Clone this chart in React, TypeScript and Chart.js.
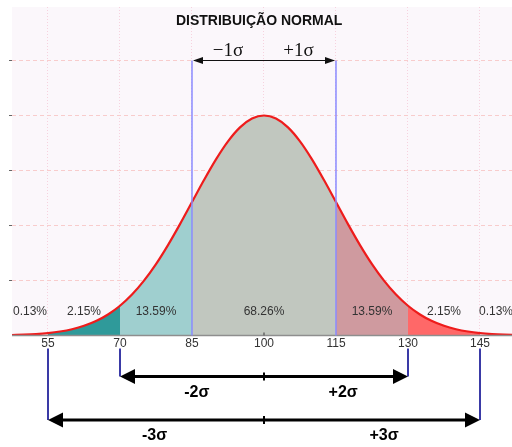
import React, { useEffect, useRef } from 'react';
import { Chart, registerables } from 'chart.js';

Chart.register(...registerables);

// ---- data ----
const curveX = [
  47.5, 50, 52.5, 55, 57.5, 60, 62.5, 65, 67.5, 70, 72.5, 75, 77.5, 80, 82.5, 85, 87.5, 90, 92.5, 95, 97.5,
  100,
  102.5, 105, 107.5, 110, 112.5, 115, 117.5, 120, 122.5, 125, 127.5, 130, 132.5, 135, 137.5, 140, 142.5, 145, 147.5, 150, 152.5,
];
const curveY = [
  0.0087, 0.0155, 0.0266, 0.0444, 0.0723, 0.1143, 0.1758, 0.2629, 0.3826, 0.5413, 0.7451, 0.9974, 1.2986, 1.6444, 2.0254, 2.4261, 2.8266, 3.203, 3.53, 3.7838, 3.9448,
  4.0,
  3.9448, 3.7838, 3.53, 3.203, 2.8266, 2.4261, 2.0254, 1.6444, 1.2986, 0.9974, 0.7451, 0.5413, 0.3826, 0.2629, 0.1758, 0.1143, 0.0723, 0.0444, 0.0266, 0.0155, 0.0087,
];
const tickValues = [55, 70, 85, 100, 115, 130, 145];
const bandEdges = [55, 70, 85, 115, 130, 145];
const bandColors = ['#2f9a9a', '#9fcfcf', '#c1c7bf', '#cf9a9f', '#ff6868'];
const percentLabels = ['0.13%', '2.15%', '13.59%', '68.26%', '13.59%', '2.15%', '0.13%'];
const title = 'DISTRIBUIÇÃO NORMAL';
const oneSigmaLabels = ['\u22121\u03c3', '+1\u03c3'];
const twoSigmaLabels = ['-2\u03c3', '+2\u03c3'];
const threeSigmaLabels = ['-3\u03c3', '+3\u03c3'];
const mean = 100;
const sd = 15;
const xMin = 47.5;
const xMax = 151.67;
const yMax = 5.973;

const SANS = '"Liberation Sans", Arial, sans-serif';
const SERIF = '"Liberation Serif", "Times New Roman", serif';

function arrowHead(ctx: CanvasRenderingContext2D, tx: number, ty: number, dir: number, len: number, half: number) {
  ctx.beginPath();
  ctx.moveTo(tx, ty);
  ctx.lineTo(tx - dir * len, ty - half);
  ctx.lineTo(tx - dir * len, ty + half);
  ctx.closePath();
  ctx.fill();
}

const decoPlugin = {
  id: 'deco',
  beforeDraw(chart: any) {
    const { ctx, chartArea } = chart;
    ctx.save();
    ctx.fillStyle = '#fbf7fb';
    ctx.fillRect(chartArea.left, chartArea.top, chartArea.right - chartArea.left, chartArea.bottom - chartArea.top);
    ctx.restore();
  },
  afterDatasetsDraw(chart: any) {
    const { ctx, chartArea } = chart;
    const xs = chart.scales.x;
    const ys = chart.scales.y;
    const px = (v: number) => xs.getPixelForValue(v);
    const base = chartArea.bottom;
    ctx.save();

    // axis line
    ctx.strokeStyle = '#8e8e8e';
    ctx.lineWidth = 1.5;
    ctx.beginPath();
    ctx.moveTo(chartArea.left, base);
    ctx.lineTo(chartArea.right, base);
    ctx.stroke();
    ctx.strokeStyle = '#666';
    ctx.lineWidth = 1.5;
    ctx.beginPath();
    ctx.moveTo(px(mean), base - 3);
    ctx.lineTo(px(mean), base);
    ctx.stroke();

    // +-1 sigma verticals and top arrow
    const topY = ys.getPixelForValue(5);
    ctx.strokeStyle = '#8b8bff';
    ctx.lineWidth = 1.5;
    [mean - sd, mean + sd].forEach((v) => {
      ctx.beginPath();
      ctx.moveTo(px(v), topY);
      ctx.lineTo(px(v), base);
      ctx.stroke();
    });
    ctx.strokeStyle = '#111';
    ctx.fillStyle = '#111';
    ctx.lineWidth = 1;
    ctx.beginPath();
    ctx.moveTo(px(mean - sd) + 2, topY);
    ctx.lineTo(px(mean + sd) - 2, topY);
    ctx.stroke();
    arrowHead(ctx, px(mean - sd) + 1, topY, -1, 10, 3.5);
    arrowHead(ctx, px(mean + sd) - 1, topY, 1, 10, 3.5);

    // percent labels
    const edges = [xMin, ...bandEdges, xMax];
    ctx.fillStyle = '#333';
    ctx.font = `12px ${SANS}`;
    ctx.textAlign = 'center';
    ctx.textBaseline = 'middle';
    percentLabels.forEach((t, i) => {
      const mid = (edges[i] + edges[i + 1]) / 2;
      ctx.fillText(t, px(mid), base - 24);
    });

    // below-axis verticals
    ctx.strokeStyle = '#3a3aa6';
    ctx.lineWidth = 2;
    const a2 = 376.5;
    const a3 = 420;
    [[mean - 2 * sd, a2], [mean + 2 * sd, a2], [mean - 3 * sd, a3], [mean + 3 * sd, a3]].forEach(([v, yEnd]) => {
      ctx.beginPath();
      ctx.moveTo(px(v), base + 13);
      ctx.lineTo(px(v), yEnd);
      ctx.stroke();
    });

    // bottom arrows
    ctx.strokeStyle = '#000';
    ctx.fillStyle = '#000';
    [[2, a2], [3, a3]].forEach(([k, yy]) => {
      const l = px(mean - k * sd);
      const r = px(mean + k * sd);
      ctx.lineWidth = 3;
      ctx.beginPath();
      ctx.moveTo(l + 10, yy);
      ctx.lineTo(r - 10, yy);
      ctx.stroke();
      arrowHead(ctx, l, yy, -1, 15, 7.5);
      arrowHead(ctx, r, yy, 1, 15, 7.5);
      ctx.lineWidth = 2;
      ctx.beginPath();
      ctx.moveTo(px(mean), yy - 4);
      ctx.lineTo(px(mean), yy + 4);
      ctx.stroke();
    });

    ctx.font = `bold 16px ${SANS}`;
    ctx.fillText(twoSigmaLabels[0], px(86), 393);
    ctx.fillText(twoSigmaLabels[1], px(116.5), 393);
    ctx.fillText(threeSigmaLabels[0], px(77.2), 436);
    ctx.fillText(threeSigmaLabels[1], px(125), 436);

    // title and 1 sigma labels
    ctx.fillStyle = '#111';
    ctx.font = `bold 14px ${SANS}`;
    ctx.fillText(title, px(99), 21.5);
    ctx.font = `19px ${SERIF}`;
    ctx.fillText(oneSigmaLabels[0], px(92.5), 51);
    ctx.fillText(oneSigmaLabels[1], px(107.2), 51);

    ctx.restore();
  },
};

export default function App() {
  const ref = useRef<HTMLCanvasElement | null>(null);

  useEffect(() => {
    if (!ref.current) return;
    const pts = curveX.map((x, i) => ({ x, y: curveY[i] }));
    const bands = bandEdges.slice(0, -1).map((a, i) => ({
      data: pts.filter((p) => p.x >= a && p.x <= bandEdges[i + 1]),
      backgroundColor: bandColors[i],
      borderWidth: 0,
      borderColor: 'rgba(0,0,0,0)',
      fill: 'origin',
      pointRadius: 0,
      cubicInterpolationMode: 'monotone' as const,
    }));
    const chart = new Chart(ref.current, {
      type: 'line',
      data: {
        datasets: [
          {
            data: pts,
            borderColor: '#ee1c1c',
            borderWidth: 2.2,
            fill: false,
            pointRadius: 0,
            cubicInterpolationMode: 'monotone',
          },
          ...bands,
        ] as any,
      },
      options: {
        responsive: false,
        animation: false,
        events: [],
        layout: { padding: { top: 7, left: 0, right: 0, bottom: 0 } },
        plugins: { legend: { display: false }, tooltip: { enabled: false }, title: { display: false } },
        scales: {
          x: {
            type: 'linear',
            min: xMin,
            max: xMax,
            afterBuildTicks: (s: any) => {
              s.ticks = tickValues.map((v) => ({ value: v }));
            },
            afterFit: (s: any) => {
              s.height = 111.5;
            },
            ticks: {
              autoSkip: false,
              maxRotation: 0,
              padding: 1,
              color: '#333',
              font: { size: 12, family: SANS },
              callback: (v: any) => String(v),
            },
            grid: { color: '#f6d2de', lineWidth: 1, drawTicks: false },
            border: { display: false, dash: [1, 2] },
          },
          y: {
            type: 'linear',
            min: 0,
            max: yMax,
            afterBuildTicks: (s: any) => {
              s.ticks = [1, 2, 3, 4, 5].map((v) => ({ value: v }));
            },
            afterFit: (s: any) => {
              s.width = 12;
            },
            ticks: { display: false },
            grid: { color: '#f8cccc', lineWidth: 1, drawTicks: true, tickLength: 3, tickColor: '#666', tickBorderDash: [] },
            border: { display: false, dash: [4, 3] },
          },
        },
      },
      plugins: [decoPlugin],
    });
    return () => chart.destroy();
  }, []);

  return (
    <div style={{ position: 'absolute', left: 0, top: 0, width: 512, height: 447, background: '#fff' }}>
      <canvas ref={ref} width={512} height={447} style={{ display: 'block' }} />
    </div>
  );
}
